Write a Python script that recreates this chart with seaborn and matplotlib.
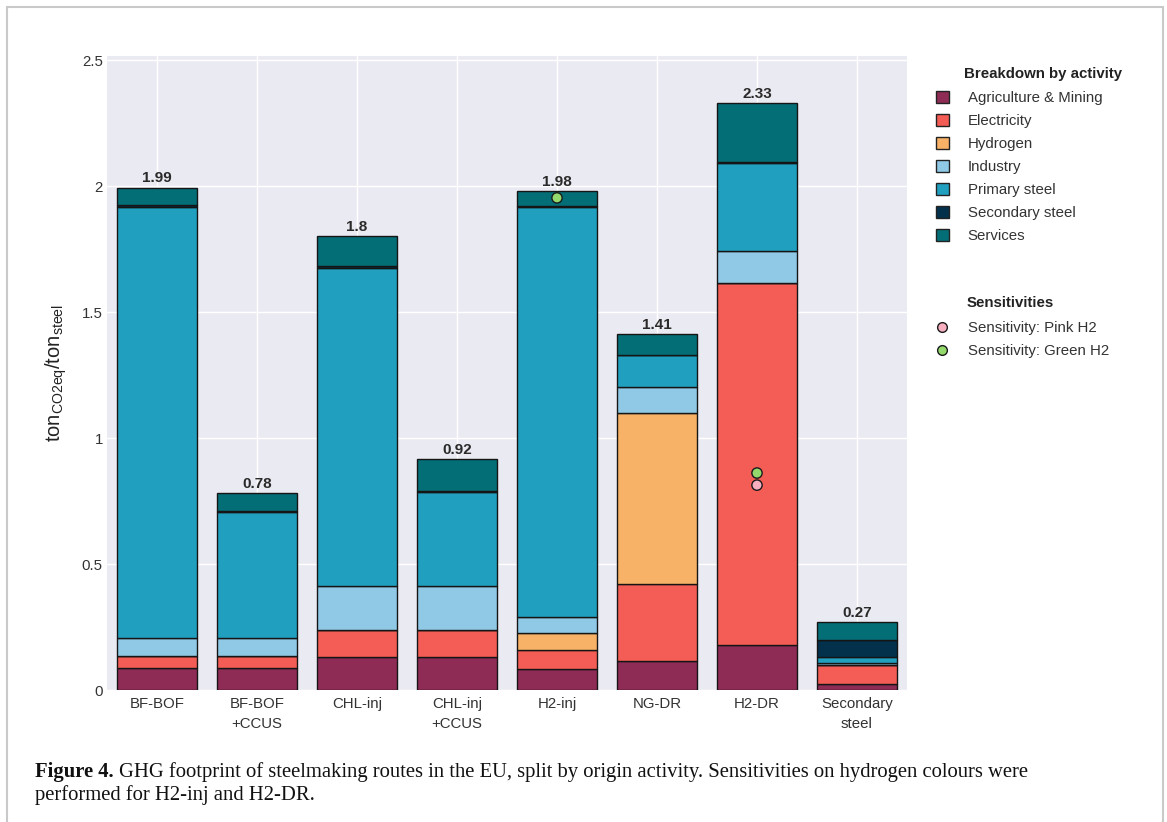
import matplotlib
matplotlib.use("Agg")
import matplotlib.pyplot as plt
import seaborn as sns
import numpy as np
import pandas as pd
from matplotlib.patches import Patch
from matplotlib.lines import Line2D

# ---------------- data ----------------
categories = ["BF-BOF", "BF-BOF\n+CCUS", "CHL-inj", "CHL-inj\n+CCUS", "H2-inj", "NG-DR", "H2-DR", "Secondary\nsteel"]
agri_mining = [0.087, 0.087, 0.132, 0.132, 0.085, 0.117, 0.180, 0.023]
electricity = [0.047, 0.047, 0.108, 0.108, 0.072, 0.302, 1.435, 0.075]
hydrogen = [0.0, 0.0, 0.0, 0.0, 0.070, 0.680, 0.0, 0.0]
industry = [0.074, 0.074, 0.172, 0.172, 0.063, 0.102, 0.127, 0.008]
primary_steel = [1.710, 0.498, 1.263, 0.372, 1.625, 0.128, 0.348, 0.024]
secondary_steel = [0.006, 0.006, 0.006, 0.006, 0.006, 0.0, 0.006, 0.070]
services = [0.070, 0.070, 0.120, 0.125, 0.060, 0.083, 0.234, 0.068]

activity_names = ["Agriculture & Mining", "Electricity", "Hydrogen", "Industry",
                  "Primary steel", "Secondary steel", "Services"]
activity_colors = ["#8E2C56", "#F45D55", "#F7B267", "#90C9E5", "#219FBE", "#03304A", "#036E76"]

pink_cat = ["H2-DR"]
pink_val = [0.813]
green_cat = ["H2-inj", "H2-DR"]
green_val = [1.953, 0.861]

yticks = [0, 0.5, 1, 1.5, 2, 2.5]

# ---------------- style ----------------
sns.set_theme(style="darkgrid", rc={"axes.facecolor": "#EAEAF2", "grid.color": "white",
                                    "grid.linewidth": 1.0})
plt.rcParams["font.family"] = ["Liberation Sans", "DejaVu Sans"]
plt.rcParams["mathtext.default"] = "regular"

W, H = 1167, 822
fig = plt.figure(figsize=(W / 100, H / 100), dpi=100)
fig.patch.set_facecolor("white")
ax = fig.add_axes([107 / W, 1 - 690 / H, 800 / W, (690 - 56) / H])

layers = [agri_mining, electricity, hydrogen, industry, primary_steel, secondary_steel, services]
x = np.arange(len(categories))
bottom = np.zeros(len(categories))
for vals, name, col in zip(layers, activity_names, activity_colors):
    v = np.array(vals)
    ax.bar(x, v, bottom=bottom, width=0.8, color=col, edgecolor="#151515",
           linewidth=1.0, zorder=2)
    bottom = bottom + v

totals = bottom
for xi, t in zip(x, totals):
    ax.annotate(f"{round(t, 2):g}", (xi, t), xytext=(0, 1.5), textcoords="offset points",
                ha="center", va="bottom", fontsize=11, fontweight="bold", color="#2a2a2a")

# sensitivities
sens = pd.DataFrame({
    "x": [categories.index(c) for c in pink_cat] + [categories.index(c) for c in green_cat],
    "y": pink_val + green_val,
    "kind": ["Sensitivity: Pink H2"] * len(pink_cat) + ["Sensitivity: Green H2"] * len(green_cat),
})
sns.scatterplot(data=sens, x="x", y="y", hue="kind",
                palette={"Sensitivity: Pink H2": "#F7AFC0", "Sensitivity: Green H2": "#93D96C"},
                s=55, edgecolor="#1a1a1a", linewidth=1.0, zorder=4, legend=False, ax=ax)

ax.set_xlim(-0.5, len(categories) - 0.5)
ax.set_ylim(0, 2.516)
ax.set_xticks(x)
ax.set_xticklabels(categories, fontsize=10.8, color="#333333", linespacing=1.55)
ax.set_yticks(yticks)
ax.set_yticklabels([f"{v:g}" for v in yticks], fontsize=10.8, color="#333333")
ax.tick_params(axis="x", length=0, pad=5)
ax.tick_params(axis="y", length=0, pad=3)
ax.set_xlabel("")
ax.set_ylabel(r"ton$_{CO2eq}$/ton$_{steel}$", fontsize=14.5, color="#222222", labelpad=9)
for s in ax.spines.values():
    s.set_visible(False)

# legend: breakdown
fig.text(964 / W, 1 - 74 / H, "Breakdown by activity", fontsize=10.8, fontweight="bold",
         color="#222222", va="center", ha="left")
handles = [Patch(facecolor=c, edgecolor="#222222", linewidth=1.0, label=n)
           for n, c in zip(activity_names, activity_colors)]
leg1 = fig.legend(handles=handles, loc="upper left", bbox_to_anchor=(936 / W, 1 - 91 / H),
                  frameon=False, fontsize=10.8, handlelength=0.85, handleheight=0.85,
                  handletextpad=1.25, labelspacing=0.585, borderpad=0, borderaxespad=0)
for t in leg1.get_texts():
    t.set_color("#333333")

fig.text(967 / W, 1 - 303 / H, "Sensitivities", fontsize=10.8, fontweight="bold",
         color="#222222", va="center", ha="left")
h2 = [Line2D([], [], marker="o", linestyle="", markersize=7, markerfacecolor="#F7AFC0",
             markeredgecolor="#1a1a1a", markeredgewidth=1.0, label="Sensitivity: Pink H2"),
      Line2D([], [], marker="o", linestyle="", markersize=7, markerfacecolor="#93D96C",
             markeredgecolor="#1a1a1a", markeredgewidth=1.0, label="Sensitivity: Green H2")]
leg2 = fig.legend(handles=h2, loc="upper left", bbox_to_anchor=(936 / W, 1 - 321 / H),
                  frameon=False, fontsize=10.8, handlelength=0.85, handletextpad=1.25,
                  labelspacing=0.62, borderpad=0, borderaxespad=0)
for t in leg2.get_texts():
    t.set_color("#333333")

# caption
cap_font = ["Liberation Serif", "DejaVu Serif"]
cap_size = 14.9
t1 = fig.text(35 / W, 1 - 777 / H, "Figure 4.", fontsize=cap_size, fontweight="bold",
              family=cap_font, color="#111111", va="baseline")
fig.canvas.draw()
bb = t1.get_window_extent()
fig.text((bb.x1 + 5) / W, 1 - 777 / H,
         "GHG footprint of steelmaking routes in the EU, split by origin activity. "
         "Sensitivities on hydrogen colours were",
         fontsize=cap_size, family=cap_font, color="#111111", va="baseline")
fig.text(35 / W, 1 - 800 / H, "performed for H2-inj and H2-DR.", fontsize=cap_size,
         family=cap_font, color="#111111", va="baseline")

# figure border
bc = "#C9C9C9"
fig.add_artist(Line2D([7 / W, 7 / W], [0, 1 - 7 / H], color=bc, lw=1.5, transform=fig.transFigure))
fig.add_artist(Line2D([7 / W, 1163 / W], [1 - 7 / H, 1 - 7 / H], color=bc, lw=1.5, transform=fig.transFigure))
fig.add_artist(Line2D([1163 / W, 1163 / W], [0, 1 - 7 / H], color=bc, lw=1.5, transform=fig.transFigure))

fig.savefig("out.png", dpi=100, facecolor="white")
